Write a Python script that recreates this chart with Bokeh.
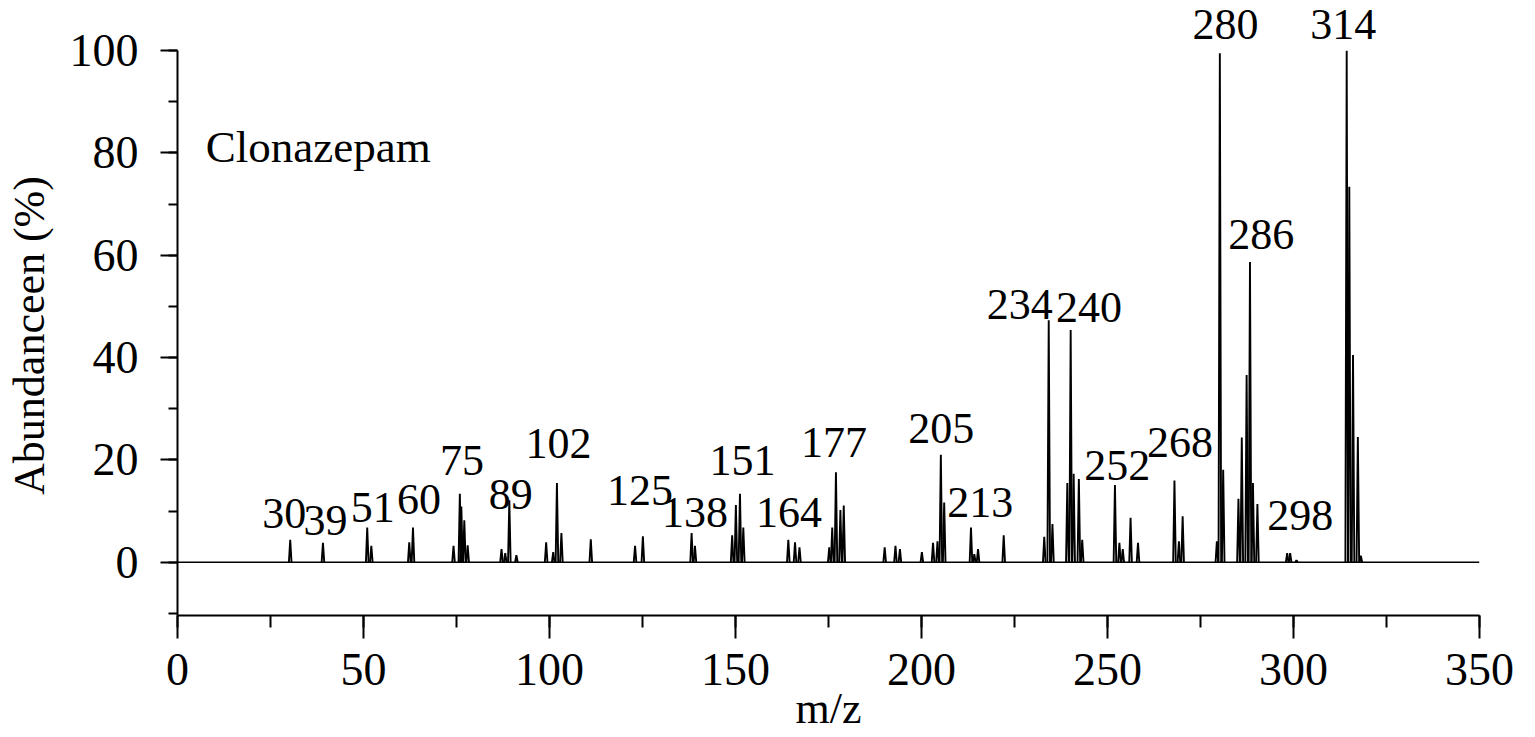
import numpy as np
from bokeh.plotting import figure
from bokeh.models import Range1d, SingleIntervalTicker, Label
from bokeh.core.properties import value
from bokeh.embed import file_html
from bokeh.resources import INLINE

# ---- data ----
mz = [30.3, 39.1, 51.0, 52.1, 62.3, 63.3, 74.2, 75.9, 76.3, 77.1, 78.0,
      87.1, 88.1, 89.2, 91.1, 99.1, 101.0, 102.0, 103.2, 111.1, 123.0, 125.1,
      138.2, 139.1, 149.1, 150.1, 151.2, 152.1, 164.2, 166.0, 167.2,
      175.2, 176.0, 177.0, 178.2, 179.1, 190.1, 193.0, 194.2, 200.1,
      203.1, 204.3, 205.2, 206.1, 213.3, 214.2, 215.2, 222.1,
      233.0, 234.2, 235.2, 239.2, 240.1, 240.9, 242.3, 243.2,
      252.0, 253.2, 254.1, 256.2, 258.2, 268.0, 269.2, 270.2,
      279.4, 280.2, 281.1, 285.2, 286.1, 287.4, 288.3, 289.1, 290.3,
      298.3, 299.1, 300.8, 314.3, 315.0, 316.0, 317.3, 318.1]
abundance = [4.4, 3.8, 6.8, 3.2, 3.9, 6.8, 3.2, 13.4, 10.9, 8.2, 3.3,
             2.6, 1.8, 12.1, 1.4, 3.9, 2.0, 15.5, 5.7, 4.5, 3.2, 5.1,
             5.7, 3.2, 5.3, 11.2, 13.4, 6.8, 4.4, 3.9, 2.9,
             2.9, 6.8, 17.6, 10.2, 11.1, 2.9, 3.2, 2.6, 2.0,
             3.8, 4.1, 21.0, 11.7, 6.8, 1.6, 2.6, 5.3,
             5.0, 47.3, 7.5, 15.5, 45.4, 17.3, 16.3, 4.4,
             15.1, 3.8, 2.6, 8.7, 3.8, 16.0, 4.1, 9.0,
             4.1, 99.5, 18.1, 12.4, 24.4, 36.6, 58.7, 15.5, 11.4,
             1.8, 1.8, 0.4, 100.0, 73.4, 40.5, 24.5, 1.3]

label_text = ["30", "39", "51", "60", "75", "89", "102", "125", "138", "151",
              "164", "177", "205", "213", "234", "240", "252", "268", "280",
              "286", "298", "314"]
label_mz = [28.7, 39.8, 52.5, 64.9, 76.5, 89.6, 102.4, 124.3, 139.1, 151.9,
            164.4, 176.5, 205.3, 215.8, 226.4, 245.0, 252.6, 269.5, 281.7,
            291.3, 301.8, 313.4]
label_abund = [6.5, 5.0, 7.6, 9.1, 16.8, 10.1, 20.0, 10.9, 6.6, 16.8,
               6.6, 20.2, 23.1, 8.5, 47.2, 46.6, 15.8, 20.2, 101.9,
               60.9, 6.0, 101.9]

compound = "Clonazepam"
x_title = "m/z"
y_title = "Abundanceen (%)"

FONT = "Liberation Serif"

p = figure(width=1535, height=737, output_backend="svg", toolbar_location=None,
           x_range=Range1d(0, 350), y_range=Range1d(-10.4, 109.8),
           min_border_left=177, min_border_right=56,
           min_border_top=0, min_border_bottom=122)
p.outline_line_color = None
p.xgrid.visible = False
p.ygrid.visible = False
p.background_fill_color = "white"
p.border_fill_color = "white"

# baseline
p.line(x=[0, 350], y=[0, 0], line_color="black", line_width=1.5)

# peaks as narrow triangles
hw = 0.35
xs = [[m - hw, m, m + hw] for m in mz]
ys = [[0, a, 0] for a in abundance]
p.multi_line(xs=xs, ys=ys, line_color="black", line_width=1.9)

# peak labels
p.text(x=label_mz, y=label_abund, text=label_text,
       text_font=value(FONT), text_font_size="44px", y_offset=-16,
       text_align="center", text_baseline="alphabetic", text_color="black")

# axes
xa = p.xaxis[0]
xa.ticker = SingleIntervalTicker(interval=50, num_minor_ticks=2)
xa.bounds = (0, 350)
xa.axis_line_width = 2
xa.major_tick_line_width = 2
xa.minor_tick_line_width = 2
xa.major_tick_out = 23
xa.major_tick_in = 0
xa.minor_tick_out = 12
xa.minor_tick_in = 0
xa.major_label_text_font = FONT
xa.major_label_text_font_size = "46px"
xa.major_label_text_color = "black"
xa.major_label_standoff = 15
xa.axis_label = x_title
xa.axis_label_text_font = FONT
xa.axis_label_text_font_size = "44px"
xa.axis_label_text_font_style = "normal"
xa.axis_label_text_color = "black"
xa.axis_label_standoff = -4

ya = p.yaxis[0]
ya.ticker = SingleIntervalTicker(interval=20, num_minor_ticks=2)
ya.bounds = (-10.4, 100)
ya.axis_line_width = 2
ya.major_tick_line_width = 2
ya.minor_tick_line_width = 2
ya.major_tick_out = 17
ya.major_tick_in = 0
ya.minor_tick_out = 9
ya.minor_tick_in = 0
ya.major_label_text_font = FONT
ya.major_label_text_font_size = "46px"
ya.major_label_text_color = "black"
ya.major_label_standoff = 22
ya.axis_label = y_title + "\u00a0" * 5
ya.axis_label_text_font = FONT
ya.axis_label_text_font_size = "44px"
ya.axis_label_text_font_style = "normal"
ya.axis_label_text_color = "black"
ya.axis_label_standoff = 13

# compound name
p.add_layout(Label(x=7.6, y=78.1, text=compound, text_font=FONT,
                   text_font_size="45px", text_align="left", y_offset=16,
                   text_baseline="alphabetic", text_color="black"))

open("out.html", "w").write(file_html(p, INLINE))
